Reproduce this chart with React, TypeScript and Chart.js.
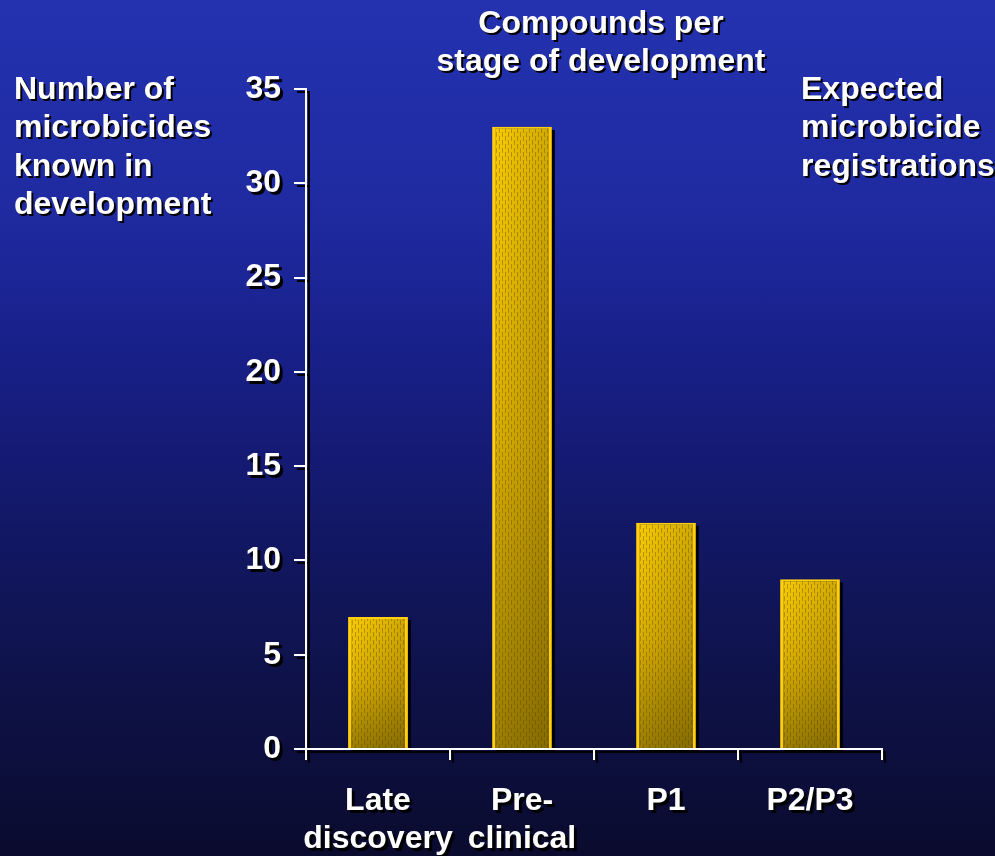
import React, { useEffect, useRef } from "react";
import { Chart, registerables } from "chart.js";

Chart.register(...registerables);

// Development pipeline: compounds per stage
const stages: string[][] = [["Late", "discovery"], ["Pre-", "clinical"], ["P1"], ["P2/P3"]];
const compounds: number[] = [7, 33, 12, 9];
const yMax = 35;
const yStep = 5;

const titleLines = ["Compounds per", "stage of development"];
const leftLabel = ["Number of", "microbicides", "known in", "development"];
const rightLabel = ["Expected", "microbicide", "registrations"];

const FONT = "'Liberation Sans', Arial, Helvetica, sans-serif";
const FONT_SIZE = 32;
const SHADOW_OFFSET = 3;

let texture: CanvasPattern | null = null;
function getTexture(ctx: CanvasRenderingContext2D) {
  if (texture) return texture;
  const tile = document.createElement("canvas");
  tile.width = 6;
  tile.height = 8;
  const t = tile.getContext("2d")!;
  t.fillStyle = "rgba(95,65,0,0.36)";
  t.fillRect(1, 0, 1, 5);
  t.fillRect(4, 4, 1, 4);
  t.fillRect(4, 0, 1, 1);
  texture = ctx.createPattern(tile, "repeat");
  return texture;
}

// Fine woven texture and right-side shading over each bar's face.
const barTexturePlugin = {
  id: "barTexture",
  afterDatasetsDraw(chart: any) {
    const ctx = chart.ctx as CanvasRenderingContext2D;
    const meta = chart.getDatasetMeta(0);
    ctx.save();
    meta.data.forEach((bar: any) => {
      const { x, y, base, width } = bar.getProps(["x", "y", "base", "width"], true);
      const left = x - width / 2 + 3;
      const right = x + width / 2 - 3;
      const top = y + 2;
      const h = base - top;
      ctx.fillStyle = getTexture(ctx)!;
      ctx.fillRect(left, top, right - left, h);
      const g = ctx.createLinearGradient(left, 0, right, 0);
      g.addColorStop(0, "rgba(0,0,0,0)");
      g.addColorStop(1, "rgba(40,25,0,0.18)");
      ctx.fillStyle = g;
      ctx.fillRect(left, top, right - left, h);
    });
    ctx.restore();
  },
};

function barFill(c: any) {
  const ch = c.chart;
  const ys = ch.scales?.y;
  if (!ys || !c.parsed) return "#d8b000";
  const top = ys.getPixelForValue(c.parsed.y);
  const bottom = ys.getPixelForValue(0);
  if (!isFinite(top) || !isFinite(bottom) || top === bottom) return "#d8b000";
  const g = ch.ctx.createLinearGradient(0, top, 0, bottom);
  g.addColorStop(0, "#f8cb00");
  g.addColorStop(0.5, "#d8ae00");
  g.addColorStop(1, "#9a7e00");
  return g;
}

// Builds the chart config; the shadow copy uses black for every mark.
function makeConfig(shadow: boolean): any {
  const ink = shadow ? "#000000" : "#ffffff";
  return {
    type: "bar",
    data: {
      labels: stages,
      datasets: [
        {
          data: compounds,
          backgroundColor: shadow ? "#000000" : barFill,
          borderColor: shadow ? "#000000" : "#ffcf10",
          borderWidth: { left: 3, top: 2, right: 3, bottom: 0 },
          borderSkipped: false,
          categoryPercentage: 1,
          barPercentage: 0.415,
        },
      ],
    },
    options: {
      animation: false,
      responsive: true,
      maintainAspectRatio: false,
      layout: { padding: { top: 89, right: 113, left: 0, bottom: 0 } },
      plugins: {
        legend: { display: false },
        tooltip: { enabled: false },
        title: { display: false },
      },
      scales: {
        x: {
          offset: true,
          afterFit: (s: any) => {
            s.height = 107;
          },
          grid: {
            offset: true,
            drawOnChartArea: false,
            drawTicks: true,
            tickLength: 11,
            color: ink,
            lineWidth: 2,
          },
          border: { display: true, color: ink, width: 2 },
          ticks: {
            color: ink,
            font: { family: FONT, size: FONT_SIZE, weight: "bold", lineHeight: 1.19 },
            padding: 22,
            maxRotation: 0,
            autoSkip: false,
          },
        },
        y: {
          min: 0,
          max: yMax,
          afterFit: (s: any) => {
            s.width = 306;
          },
          grid: {
            drawOnChartArea: false,
            drawTicks: true,
            tickLength: 12,
            color: ink,
            lineWidth: 2,
          },
          border: { display: true, color: ink, width: 2 },
          ticks: {
            stepSize: yStep,
            color: ink,
            font: { family: FONT, size: FONT_SIZE, weight: "bold" },
            padding: 13,
          },
        },
      },
    },
    plugins: shadow ? [] : [barTexturePlugin],
  };
}

function ShadowText({
  lines,
  style,
}: {
  lines: string[];
  style: React.CSSProperties;
}) {
  const base: React.CSSProperties = {
    position: "absolute",
    fontFamily: FONT,
    fontWeight: "bold",
    fontSize: FONT_SIZE,
    lineHeight: "38.3px",
    whiteSpace: "nowrap",
    margin: 0,
    ...style,
  };
  const left = (style.left as number) || 0;
  const top = (style.top as number) || 0;
  return (
    <>
      <div style={{ ...base, color: "#000000", left: left + 2, top: top + 2 }}>
        {lines.map((l) => (
          <div key={l}>{l}</div>
        ))}
      </div>
      <div style={{ ...base, color: "#ffffff" }}>
        {lines.map((l) => (
          <div key={l}>{l}</div>
        ))}
      </div>
    </>
  );
}

export default function App() {
  const canvasRef = useRef<HTMLCanvasElement>(null);
  const shadowRef = useRef<HTMLCanvasElement>(null);

  useEffect(() => {
    if (!canvasRef.current || !shadowRef.current) return;
    const shadowChart = new Chart(shadowRef.current, makeConfig(true));
    const chart = new Chart(canvasRef.current, makeConfig(false));
    return () => {
      chart.destroy();
      shadowChart.destroy();
    };
  }, []);

  return (
    <div
      style={{
        position: "fixed",
        left: 0,
        top: 0,
        width: 995,
        height: 856,
        overflow: "hidden",
        background:
          "linear-gradient(to bottom, #2432b0 0%, #1f2aa0 25%, #18208a 40%, #131868 60%, #0e1248 80%, #0a0b2e 100%)",
      }}
    >
      <div
        style={{
          position: "absolute",
          left: SHADOW_OFFSET,
          top: SHADOW_OFFSET,
          width: 995,
          height: 856,
        }}
      >
        <canvas ref={shadowRef} />
      </div>
      <div style={{ position: "absolute", left: 0, top: 0, width: 995, height: 856 }}>
        <canvas ref={canvasRef} />
      </div>
      <ShadowText lines={titleLines} style={{ left: 401, top: 3, width: 400, textAlign: "center" }} />
      <ShadowText lines={leftLabel} style={{ left: 14, top: 69 }} />
      <ShadowText lines={rightLabel} style={{ left: 801, top: 69 }} />
    </div>
  );
}
